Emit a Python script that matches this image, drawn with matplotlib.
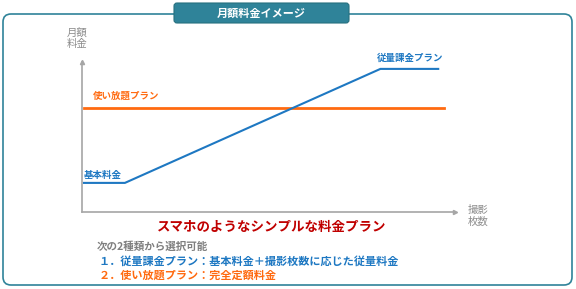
import matplotlib
matplotlib.use("Agg")
import matplotlib.pyplot as plt
from matplotlib.patches import FancyBboxPatch

plt.rcParams['font.family'] = ['Noto Sans CJK JP', 'DejaVu Sans']

# data (abstract units: shots vs monthly fee)
metered_shots = [0.05, 1.15, 8.0, 9.55]
metered_fee = [0.97, 0.97, 4.77, 4.77]
unlimited_shots = [0.05, 9.7]
unlimited_fee = [3.47, 3.47]

BLUE = '#1E78C2'
ORANGE = '#FF6A10'
TEAL = '#2F8399'
GREY = '#8C8C8C'

W, H = 576, 289
fig = plt.figure(figsize=(W / 100, H / 100), dpi=100)

# background layer in pixel coords
bg = fig.add_axes([0, 0, 1, 1])
bg.set_xlim(0, W)
bg.set_ylim(H, 0)
bg.axis('off')

bg.add_patch(FancyBboxPatch((3, 14), 569, 271, boxstyle="round,pad=0,rounding_size=8",
                            fc='white', ec=TEAL, lw=1.2))
bg.add_patch(FancyBboxPatch((174, 3), 175, 20, boxstyle="round,pad=0,rounding_size=3",
                            fc=TEAL, ec='#27707f', lw=0.8))
bg.text(261, 13.5, '月額料金イメージ', color='white', fontsize=8, fontweight='bold',
        ha='center', va='center')

bg.text(77, 38, '月額\n料金', color=GREY, fontsize=7.5, ha='center', va='center', linespacing=1.15)
bg.text(478, 216, '撮影\n枚数', color=GREY, fontsize=7.5, ha='center', va='center', linespacing=1.15)

bg.text(272, 227, 'スマホのようなシンプルな料金プラン', color='#C00000', fontsize=9.7,
        fontweight='bold', ha='center', va='center')
bg.text(97, 247, '次の2種類から選択可能', color='#7F7F7F', fontsize=7.6, fontweight='bold',
        ha='left', va='center')
bg.text(99, 261, '１．従量課金プラン：基本料金＋撮影枚数に応じた従量料金', color=BLUE,
        fontsize=8, fontweight='bold', ha='left', va='center')
bg.text(99, 275, '２．使い放題プラン：完全定額料金', color=ORANGE,
        fontsize=8, fontweight='bold', ha='left', va='center')

# chart axes
ax = fig.add_axes([82 / W, 1 - 212 / H, (455 - 82) / W, 150 / H])
ax.set_xlim(0, 10)
ax.set_ylim(0, 5)
ax.patch.set_alpha(0)
for s in ['top', 'right']:
    ax.spines[s].set_visible(False)
for s in ['left', 'bottom']:
    ax.spines[s].set_color('#A6A6A6')
    ax.spines[s].set_linewidth(1.2)
ax.set_xticks([])
ax.set_yticks([])
ax.plot(1, 0, '>', color='#A6A6A6', ms=3, transform=ax.transAxes, clip_on=False)
ax.plot(0, 1, '^', color='#A6A6A6', ms=3, transform=ax.transAxes, clip_on=False)

ax.plot(unlimited_shots, unlimited_fee, color=ORANGE, lw=2)
ax.plot(metered_shots, metered_fee, color=BLUE, lw=1.5)

ax.text(unlimited_shots[0] + 0.25, unlimited_fee[0] + 0.4, '使い放題プラン', color=ORANGE,
        fontsize=6.8, fontweight='bold', ha='left', va='center')
ax.text(metered_shots[0], metered_fee[0] + 0.27, '基本料金', color=BLUE,
        fontsize=6.8, fontweight='bold', ha='left', va='center')
ax.text(metered_shots[2] - 0.1, metered_fee[2] + 0.37, '従量課金プラン', color=BLUE,
        fontsize=6.8, fontweight='bold', ha='left', va='center')

fig.savefig('out.png', dpi=100)
